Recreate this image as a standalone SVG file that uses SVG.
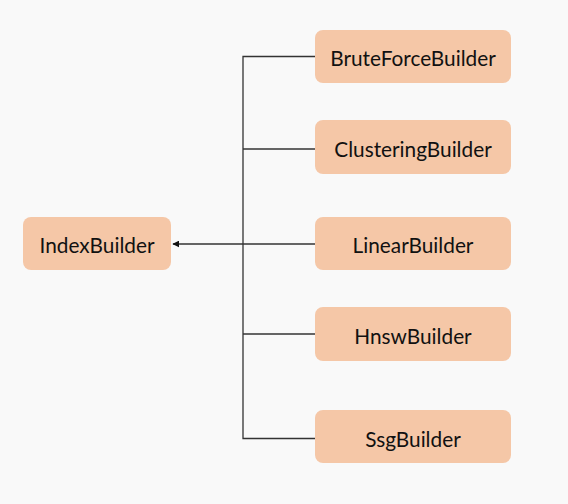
<svg xmlns="http://www.w3.org/2000/svg" width="568" height="504" viewBox="0 0 568 504">
<style>
.box{fill:#f5c7a7}
.lbl{font-family:Lato,"Liberation Sans",sans-serif;font-size:20.8px;fill:#111;text-anchor:middle;dominant-baseline:central}
.ln{stroke:#333;stroke-width:1.3;fill:none}
</style>
<defs>
<marker id="arr" viewBox="0 0 10 10" refX="9" refY="5" markerWidth="7" markerHeight="7" markerUnits="userSpaceOnUse" orient="auto">
<path d="M0,0 L10,5 L0,10 z" fill="#111"/>
</marker>
</defs>
<rect width="568" height="504" fill="#f9f9f9"/>
<g id="connectors">
<path class="ln" d="M315,56.5 H243 V438.5 H315"/>
<path class="ln" d="M243,149 H315"/>
<path class="ln" d="M243,334 H315"/>
<path class="ln" d="M315,244 H173" marker-end="url(#arr)"/>
</g>
<g id="IndexBuilder"><rect class="box" x="23" y="217" width="148" height="53" rx="8"/><text class="lbl" x="97" y="244">IndexBuilder</text></g>
<g id="BruteForceBuilder"><rect class="box" x="315" y="30" width="196" height="53" rx="8"/><text class="lbl" x="413" y="57">BruteForceBuilder</text></g>
<g id="ClusteringBuilder"><rect class="box" x="315" y="120" width="196" height="54" rx="8"/><text class="lbl" x="413" y="148">ClusteringBuilder</text></g>
<g id="LinearBuilder"><rect class="box" x="315" y="217" width="196" height="53" rx="8"/><text class="lbl" x="413" y="244">LinearBuilder</text></g>
<g id="HnswBuilder"><rect class="box" x="315" y="307" width="196" height="54" rx="8"/><text class="lbl" x="413" y="335">HnswBuilder</text></g>
<g id="SsgBuilder"><rect class="box" x="315" y="410" width="196" height="53" rx="8"/><text class="lbl" x="413" y="438">SsgBuilder</text></g>
</svg>
